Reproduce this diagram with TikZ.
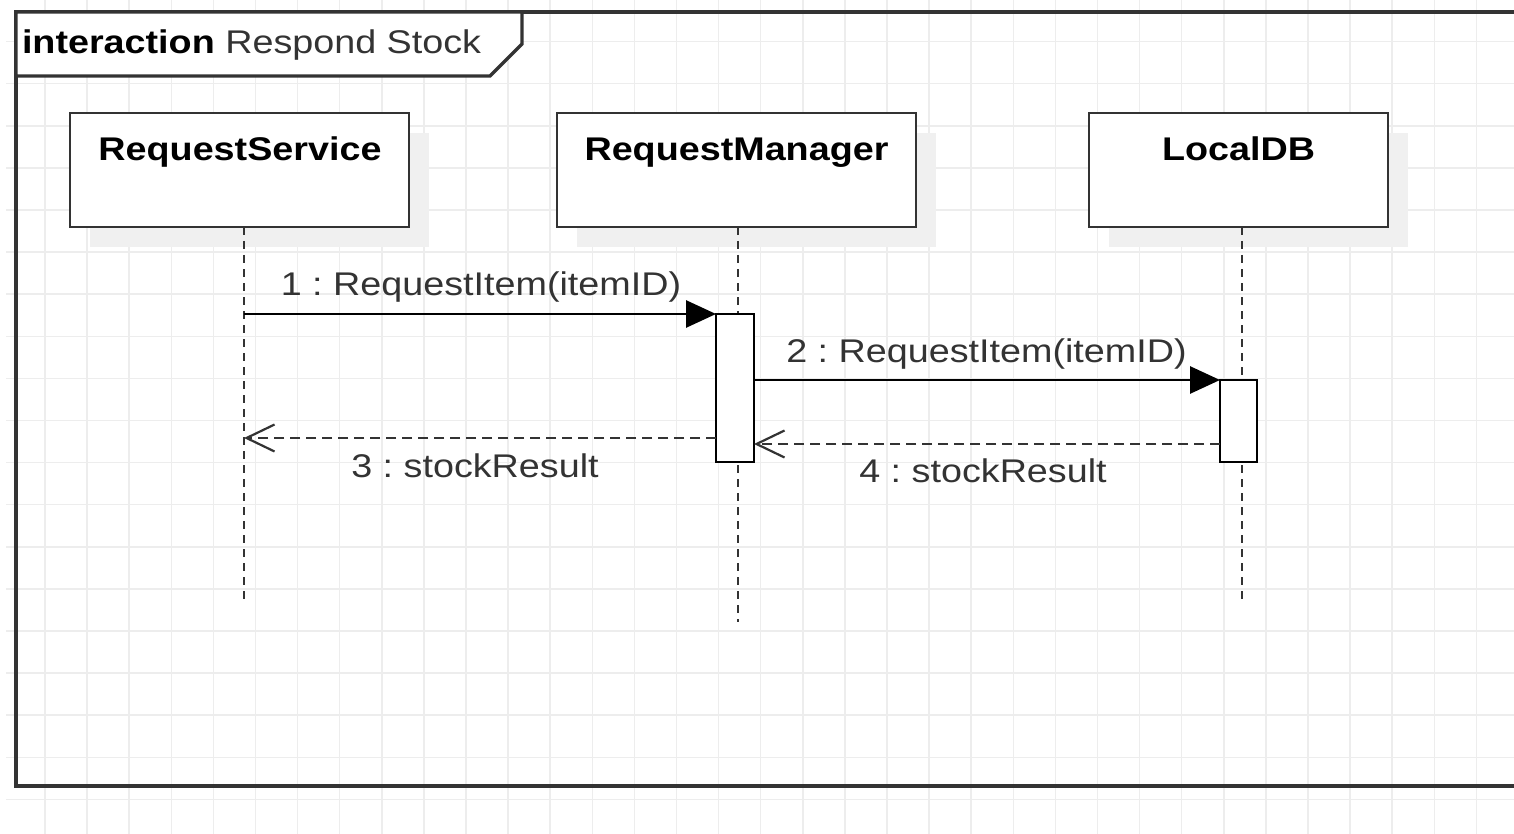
\documentclass[tikz,border=0pt]{standalone}
\usepackage{fontspec}
\setmainfont{Liberation Sans}[FakeStretch=1.15]
\frenchspacing
\usetikzlibrary{arrows.meta,shadows}
\definecolor{gridc}{RGB}{237,237,237}
\definecolor{shadowc}{RGB}{240,240,240}
\definecolor{ink}{RGB}{51,51,51}
\begin{document}
\begin{tikzpicture}[x=0.5pt,y=-0.5pt,
  every node/.style={font=\fontsize{16.4}{19}\selectfont, inner sep=0pt, outer sep=0pt},
  gridline/.style={draw=gridc, line width=0.75pt},
  framebox/.style={draw=ink, line width=1.6pt},
  lifebox/.style={draw=ink, line width=1.4pt, fill=white, rectangle, minimum height=57pt,
    drop shadow={shadow xshift=10pt, shadow yshift=-10pt, fill=shadowc, draw=none, opacity=1}},
  lifename/.style={anchor=base, font=\fontsize{16.4}{19}\selectfont\bfseries},
  lifeline/.style={draw=ink, line width=1.4pt, dash pattern=on 4pt off 3pt},
  actbox/.style={draw=black, line width=1.4pt, fill=white, rectangle},
  callmsg/.style={draw=black, line width=1.4pt, -{Triangle[length=15pt,width=13.5pt]}},
  replymsg/.style={draw=ink, line width=1.4pt, dash pattern=on 5pt off 3pt,
    -{Straight Barb[length=14pt,width=13.5pt,line width=1.1pt]}},
  msglabel/.style={anchor=base, text=ink},
]
\useasboundingbox (0,0) rectangle (1514,834);
\clip (0,0) rectangle (1514,834);
\fill[white] (0,0) rectangle (1514,834);

% background grid
\foreach \k in {1,...,35}
  \draw[gridline] ({2.9+42.1*\k},0) -- ({2.9+42.1*\k},834);
\foreach \k in {1,...,19}
  \draw[gridline] (6,{-0.5+42.1*\k}) -- (1514,{-0.5+42.1*\k});

% interaction frame and its name tab
\draw[framebox] (1530,12) -- (16,12) -- (16,786) -- (1530,786);
\filldraw[framebox, fill=white] (16,12) -- (522,12) -- (522,44) -- (490,76) -- (16,76) -- cycle;
\node[anchor=base west] (title) at (22,54)
  {\textbf{interaction} {\color{ink}Respond Stock}};

% lifeline heads
\node[lifebox, minimum width=169.5pt] (rs) at (239.5,170) {};
\node[lifebox, minimum width=179.5pt] (rm) at (736.5,170) {};
\node[lifebox, minimum width=149.5pt] (ldb) at (1238.5,170) {};
\node[lifename] (rsname) at (240,161) {RequestService};
\node[lifename] (rmname) at (736.5,161) {RequestManager};
\node[lifename] (ldbname) at (1238.5,161) {LocalDB};

% lifelines
\coordinate (rsTop) at (244,227);   \coordinate (rsEnd) at (244,600);
\coordinate (rmTop) at (738,227);   \coordinate (rmEnd) at (738,622);
\coordinate (ldbTop) at (1242,227); \coordinate (ldbEnd) at (1242,600);
\draw[lifeline] (rsTop) -- (rsEnd);
\draw[lifeline] (rmTop) -- (rmEnd);
\draw[lifeline] (ldbTop) -- (ldbEnd);

% activations
\node[actbox, minimum width=19pt, minimum height=74pt] (rmAct) at (735,388) {};
\node[actbox, minimum width=18.5pt, minimum height=41pt] (ldbAct) at (1238.5,421) {};

% messages
\coordinate (m1) at (244,314);
\coordinate (m3) at (244,438);
\coordinate (m4) at (1242,444);
\draw[callmsg] (m1) -- (rmAct.north west);
\draw[callmsg] (rmAct.east |- ldbAct.north) -- (ldbAct.north west);
\draw[replymsg] (rmAct.west |- m3) -- (m3);
\draw[replymsg] (ldbAct.west |- m4) -- (rmAct.east |- m4);

\node[msglabel] (l1) at (481,295) {1 : RequestItem(itemID)};
\node[msglabel] (l2) at (986.5,362) {2 : RequestItem(itemID)};
\node[msglabel] (l3) at (475,477) {3 : stockResult};
\node[msglabel] (l4) at (983,482) {4 : stockResult};
\end{tikzpicture}
\end{document}
